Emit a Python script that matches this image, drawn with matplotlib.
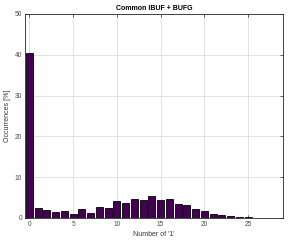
import numpy as np
import matplotlib
matplotlib.use("Agg")
import matplotlib.pyplot as plt

# Histogram of number of '1' bits
n_ones = list(range(29))
occurrences = [40.5, 2.45, 1.95, 1.4, 1.6, 1.1, 2.3, 1.3, 2.7, 2.4,
               4.1, 3.75, 4.75, 4.4, 5.4, 4.3, 4.6, 3.5, 3.1, 2.3,
               1.8, 1.05, 0.7, 0.4, 0.25, 0.15, 0.08, 0.05, 0.03]
x_ticks = [0, 5, 10, 15, 20, 25]
y_ticks = [0, 10, 20, 30, 40, 50]

plt.rcParams["font.family"] = ["Liberation Sans", "DejaVu Sans"]

fig = plt.figure(figsize=(2.98, 2.4), dpi=100)
ax = fig.add_axes([25 / 298, 22 / 240, 258 / 298, 204 / 240])

ax.bar(n_ones, occurrences, width=0.8, color="#440154",
       edgecolor="black", linewidth=0.6, zorder=3)

ax.set_xlim(-0.5, 29)
ax.set_ylim(0, 50)
ax.set_xticks(x_ticks)
ax.set_yticks(y_ticks)
ax.grid(True, color="#dcdcdc", linewidth=0.6, zorder=0)
ax.tick_params(direction="in", length=2, width=0.5, labelsize=4.8,
               top=True, right=True, colors="#262626", labelcolor="#4d4d4d",
               pad=2)
for s in ax.spines.values():
    s.set_linewidth(0.6)
    s.set_color("#262626")

ax.set_xlabel("Number of '1'", fontsize=5, labelpad=2, color="#333333")
ax.set_ylabel("Occurrences [%]", fontsize=5, labelpad=3, color="#333333")
ax.set_title("Common IBUF + BUFG", fontsize=5, fontweight="bold", pad=3)

fig.savefig("out.png", dpi=100)
